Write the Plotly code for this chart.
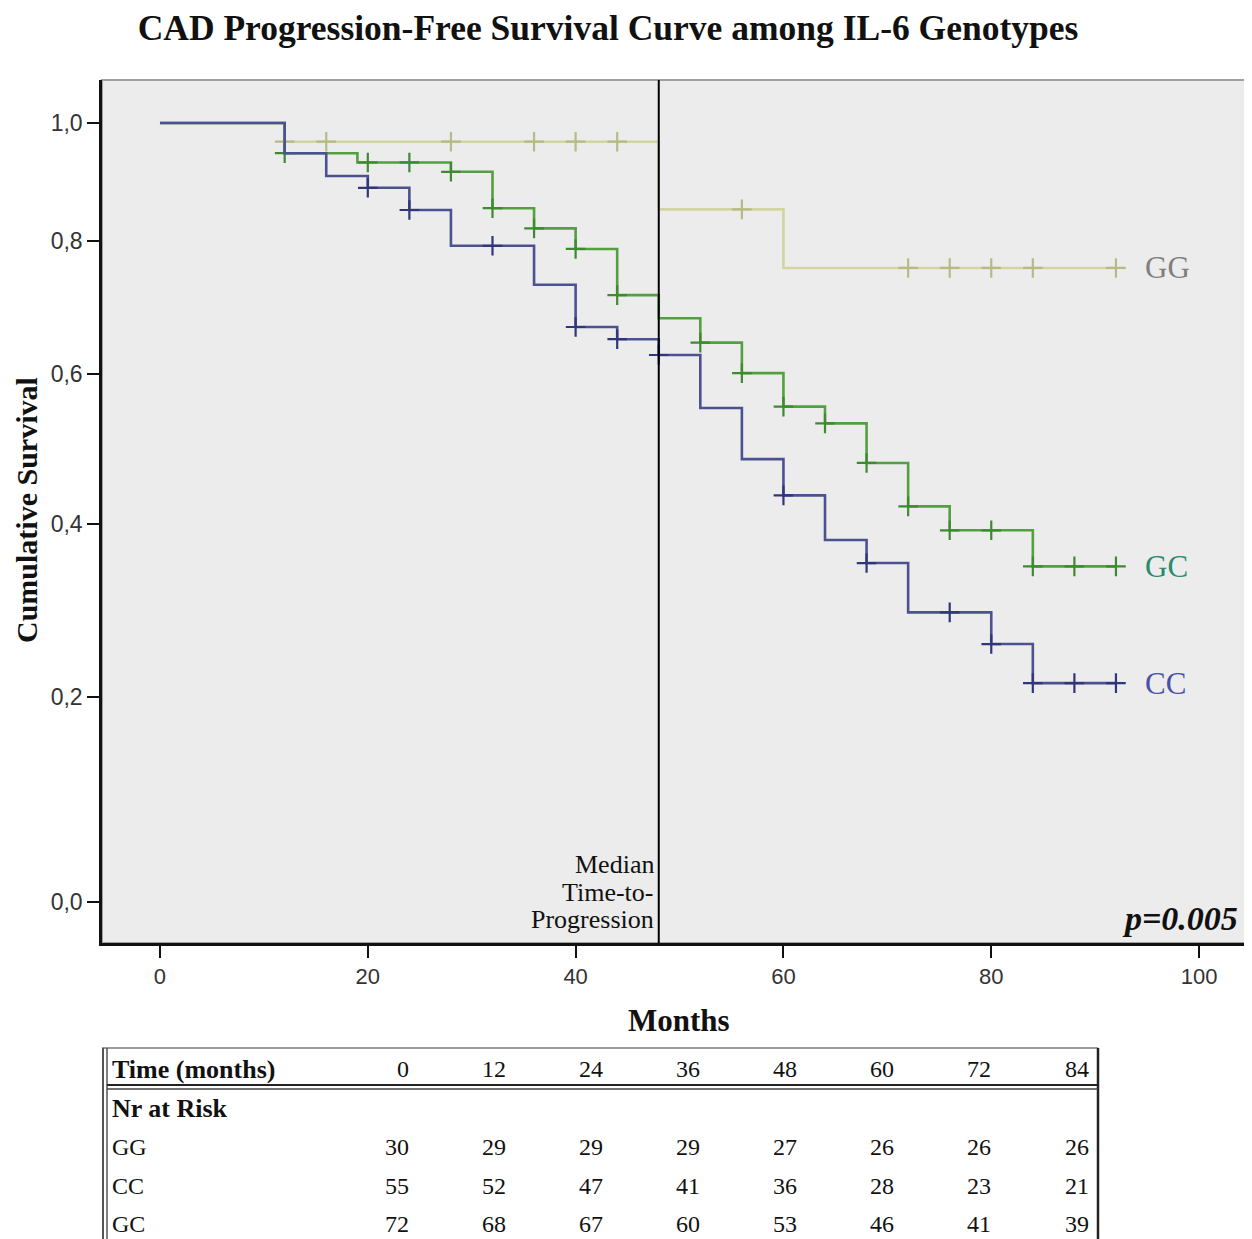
import math
import plotly.graph_objects as go

# ---------------- data ----------------
TITLE = "CAD Progression-Free Survival Curve among IL-6 Genotypes"
MEDIAN_TIME = 48
P_VALUE_TEXT = "p=0.005"

x_ticks = [0, 20, 40, 60, 80, 100]
y_tick_values = [0.0, 0.2, 0.4, 0.6, 0.8, 1.0]
y_tick_labels = ["0,0", "0,2", "0,4", "0,6", "0,8", "1,0"]

# Kaplan-Meier steps (time of change, survival after change)
gg_time = [0, 12, 48, 60, 92]
gg_surv = [1.0, 0.967, 0.852, 0.758, 0.758]
gg_cens_time = [12, 16, 28, 36, 40, 44, 56, 72, 76, 80, 84, 92]
gg_cens_surv = [0.967, 0.967, 0.967, 0.967, 0.967, 0.967, 0.852, 0.758, 0.758, 0.758, 0.758, 0.758]

gc_time = [0, 12, 19, 28, 32, 36, 40, 44, 48, 52, 56, 60, 64, 68, 72, 76, 84, 92]
gc_surv = [1.0, 0.947, 0.931, 0.915, 0.854, 0.821, 0.788, 0.716, 0.681, 0.645, 0.601,
           0.554, 0.531, 0.478, 0.422, 0.392, 0.348, 0.348]
gc_cens_time = [12, 20, 24, 28, 32, 36, 40, 44, 52, 56, 60, 64, 68, 72, 76, 80, 84, 88, 92]
gc_cens_surv = [0.947, 0.931, 0.931, 0.915, 0.854, 0.821, 0.788, 0.716, 0.645, 0.601, 0.554,
                0.531, 0.478, 0.422, 0.392, 0.392, 0.348, 0.348, 0.348]

cc_time = [0, 12, 16, 20, 24, 28, 36, 40, 44, 48, 52, 56, 60, 64, 68, 72, 80, 84, 92]
cc_surv = [1.0, 0.947, 0.908, 0.888, 0.851, 0.793, 0.732, 0.668, 0.650, 0.627, 0.552,
           0.483, 0.436, 0.380, 0.352, 0.294, 0.258, 0.215, 0.215]
cc_cens_time = [20, 24, 32, 40, 44, 48, 60, 68, 76, 80, 84, 88, 92]
cc_cens_surv = [0.888, 0.851, 0.793, 0.668, 0.650, 0.627, 0.436, 0.352, 0.294, 0.258,
                0.215, 0.215, 0.215]

# Numbers at risk table
risk_times = [0, 12, 24, 36, 48, 60, 72, 84]
risk_groups = ["GG", "CC", "GC"]
risk_GG = [30, 29, 29, 29, 27, 26, 26, 26]
risk_CC = [55, 52, 47, 41, 36, 28, 23, 21]
risk_GC = [72, 68, 67, 60, 53, 46, 41, 39]

# ---------------- styling ----------------
OFF = 8                      # page body margin in the browser
W, H = 1252 - OFF, 1239 - OFF
L, T = 102 - OFF, 80 - OFF   # plot area left / top (figure pixels)
R = W - (1250 - OFF)
B = H - (943 - OFF)
PW, PH = W - L - R, H - T - B

def px_x(px):                # page pixel -> paper fraction
    return (px - OFF - L) / PW

def px_y(py):
    return (H - B - (py - OFF)) / PH

SERIF = "Liberation Serif, Times New Roman, serif"
SANS = "Liberation Sans, Arial, sans-serif"

groups = [
    ("GG", gg_time, gg_surv, gg_cens_time, gg_cens_surv, "#d2d5a2", "#b7ba86", "#7f7f7f"),
    ("GC", gc_time, gc_surv, gc_cens_time, gc_cens_surv, "#52a040", "#3d8a30", "#2b8a6c"),
    ("CC", cc_time, cc_surv, cc_cens_time, cc_cens_surv, "#4c5192", "#30367a", "#4b50a6"),
]

fig = go.Figure()
for name, t, s, ct, cs, lc, mc, tc in groups:
    fig.add_trace(go.Scatter(x=t, y=[1 + v for v in s], mode="lines",
                             line=dict(color=lc, width=2.6, shape="hv"),
                             name=name, showlegend=False, hoverinfo="skip"))
    fig.add_trace(go.Scatter(x=ct, y=[1 + v for v in cs], mode="markers",
                             marker=dict(symbol="cross-thin", size=14, color=mc,
                                         line=dict(color=mc, width=2.2)),
                             showlegend=False, hoverinfo="skip"))
    fig.add_annotation(x=t[-1] + 2.6, y=math.log10(1 + s[-1]), xref="x", yref="y",
                       text=name, showarrow=False, xanchor="left", yanchor="middle",
                       font=dict(family=SERIF, size=31, color=tc))

# Median line
fig.add_shape(type="line", x0=MEDIAN_TIME, x1=MEDIAN_TIME, y0=0, y1=1,
              xref="x", yref="paper", line=dict(color="black", width=2))

# plot frame (top/right gray)
fig.add_shape(type="rect", x0=0, x1=1, y0=0, y1=1, xref="paper", yref="paper",
              line=dict(color="#a0a0a0", width=2), layer="below")

# Median annotation
for txt, py in [("Median", 864), ("Time-to-", 892), ("Progression", 919)]:
    fig.add_annotation(x=px_x(656), y=px_y(py), xref="paper", yref="paper", text=txt,
                       showarrow=False, xanchor="right", yanchor="middle",
                       font=dict(family=SERIF, size=26, color="#111"))

fig.add_annotation(x=px_x(1240), y=px_y(918), xref="paper", yref="paper",
                   text="<b><i>" + P_VALUE_TEXT + "</i></b>", showarrow=False,
                   xanchor="right", yanchor="middle",
                   font=dict(family=SERIF, size=34, color="#111"))

# Axis titles
fig.add_annotation(x=px_x(679), y=px_y(1020), xref="paper", yref="paper",
                   text="<b>Months</b>", showarrow=False, xanchor="center", yanchor="middle",
                   font=dict(family=SERIF, size=31, color="#111"))
fig.add_annotation(x=px_x(26), y=px_y(510), xref="paper", yref="paper",
                   text="<b>Cumulative Survival</b>", showarrow=False, textangle=-90,
                   xanchor="center", yanchor="middle",
                   font=dict(family=SERIF, size=30, color="#111"))

# ---------------- at-risk table ----------------
col_right = [411, 508, 605, 702, 799, 896, 993, 1091]
row_y = {"header": 1069, "nr": 1108, "GG": 1147, "CC": 1186, "GC": 1224}
TBL = dict(family=SERIF, size=24, color="#111")
TBL_B = dict(family=SERIF, size=26, color="#111")

fig.add_annotation(x=px_x(110), y=px_y(row_y["header"]), xref="paper", yref="paper",
                   text="<b>Time (months)</b>", showarrow=False, xanchor="left",
                   yanchor="middle", font=TBL_B)
fig.add_annotation(x=px_x(110), y=px_y(row_y["nr"]), xref="paper", yref="paper",
                   text="<b>Nr at Risk</b>", showarrow=False, xanchor="left",
                   yanchor="middle", font=TBL_B)
for cx, tv in zip(col_right, risk_times):
    fig.add_annotation(x=px_x(cx), y=px_y(row_y["header"]), xref="paper", yref="paper",
                       text=str(tv), showarrow=False, xanchor="right", yanchor="middle",
                       font=TBL)
for g, vals in zip(risk_groups, [risk_GG, risk_CC, risk_GC]):
    fig.add_annotation(x=px_x(110), y=px_y(row_y[g]), xref="paper", yref="paper",
                       text=g, showarrow=False, xanchor="left", yanchor="middle", font=TBL)
    for cx, v in zip(col_right, vals):
        fig.add_annotation(x=px_x(cx), y=px_y(row_y[g]), xref="paper", yref="paper",
                           text=str(v), showarrow=False, xanchor="right", yanchor="middle",
                           font=TBL)

def pline(x0, y0, x1, y1, color="#222", width=2):
    fig.add_shape(type="line", x0=px_x(x0), x1=px_x(x1), y0=px_y(y0), y1=px_y(y1),
                  xref="paper", yref="paper", line=dict(color=color, width=width))

pline(102, 1048, 1098, 1048, "#9a9a9a", 2)      # top
pline(103, 1048, 103, 1239, "#555", 2)          # left outer
pline(107, 1048, 107, 1239, "#555", 1.5)        # left inner
pline(1098, 1048, 1098, 1239, "#222", 2.5)      # right
pline(107, 1085, 1098, 1085, "#222", 2)         # header double line
pline(107, 1089, 1098, 1089, "#444", 1.5)

# ---------------- layout ----------------
fig.update_layout(
    width=W, height=H,
    margin=dict(l=L, r=R, t=T, b=B, autoexpand=False),
    paper_bgcolor="white", plot_bgcolor="#ececec",
    showlegend=False,
    title=dict(text="<b>" + TITLE + "</b>", x=(608 - OFF) / W, xanchor="center",
               y=1 - (28 - OFF) / H, yanchor="middle",
               font=dict(family=SERIF, size=35.5, color="#111")),
    xaxis=dict(range=[-5.58, 104.9], tickvals=x_ticks, ticks="outside", ticklen=12,
               tickwidth=2, tickcolor="#111", showline=True, linecolor="#111",
               linewidth=2.5, showgrid=False, zeroline=False,
               tickfont=dict(family=SANS, size=22, color="#333")),
    yaxis=dict(type="log", range=[-0.01584, 0.31765],
               tickvals=[1 + v for v in y_tick_values], ticktext=y_tick_labels,
               ticks="outside", ticklen=12, tickwidth=2, tickcolor="#111",
               showline=True, linecolor="#111", linewidth=2.5, showgrid=False,
               zeroline=False, tickfont=dict(family=SANS, size=23, color="#333")),
)

fig.write_html("out.html")
